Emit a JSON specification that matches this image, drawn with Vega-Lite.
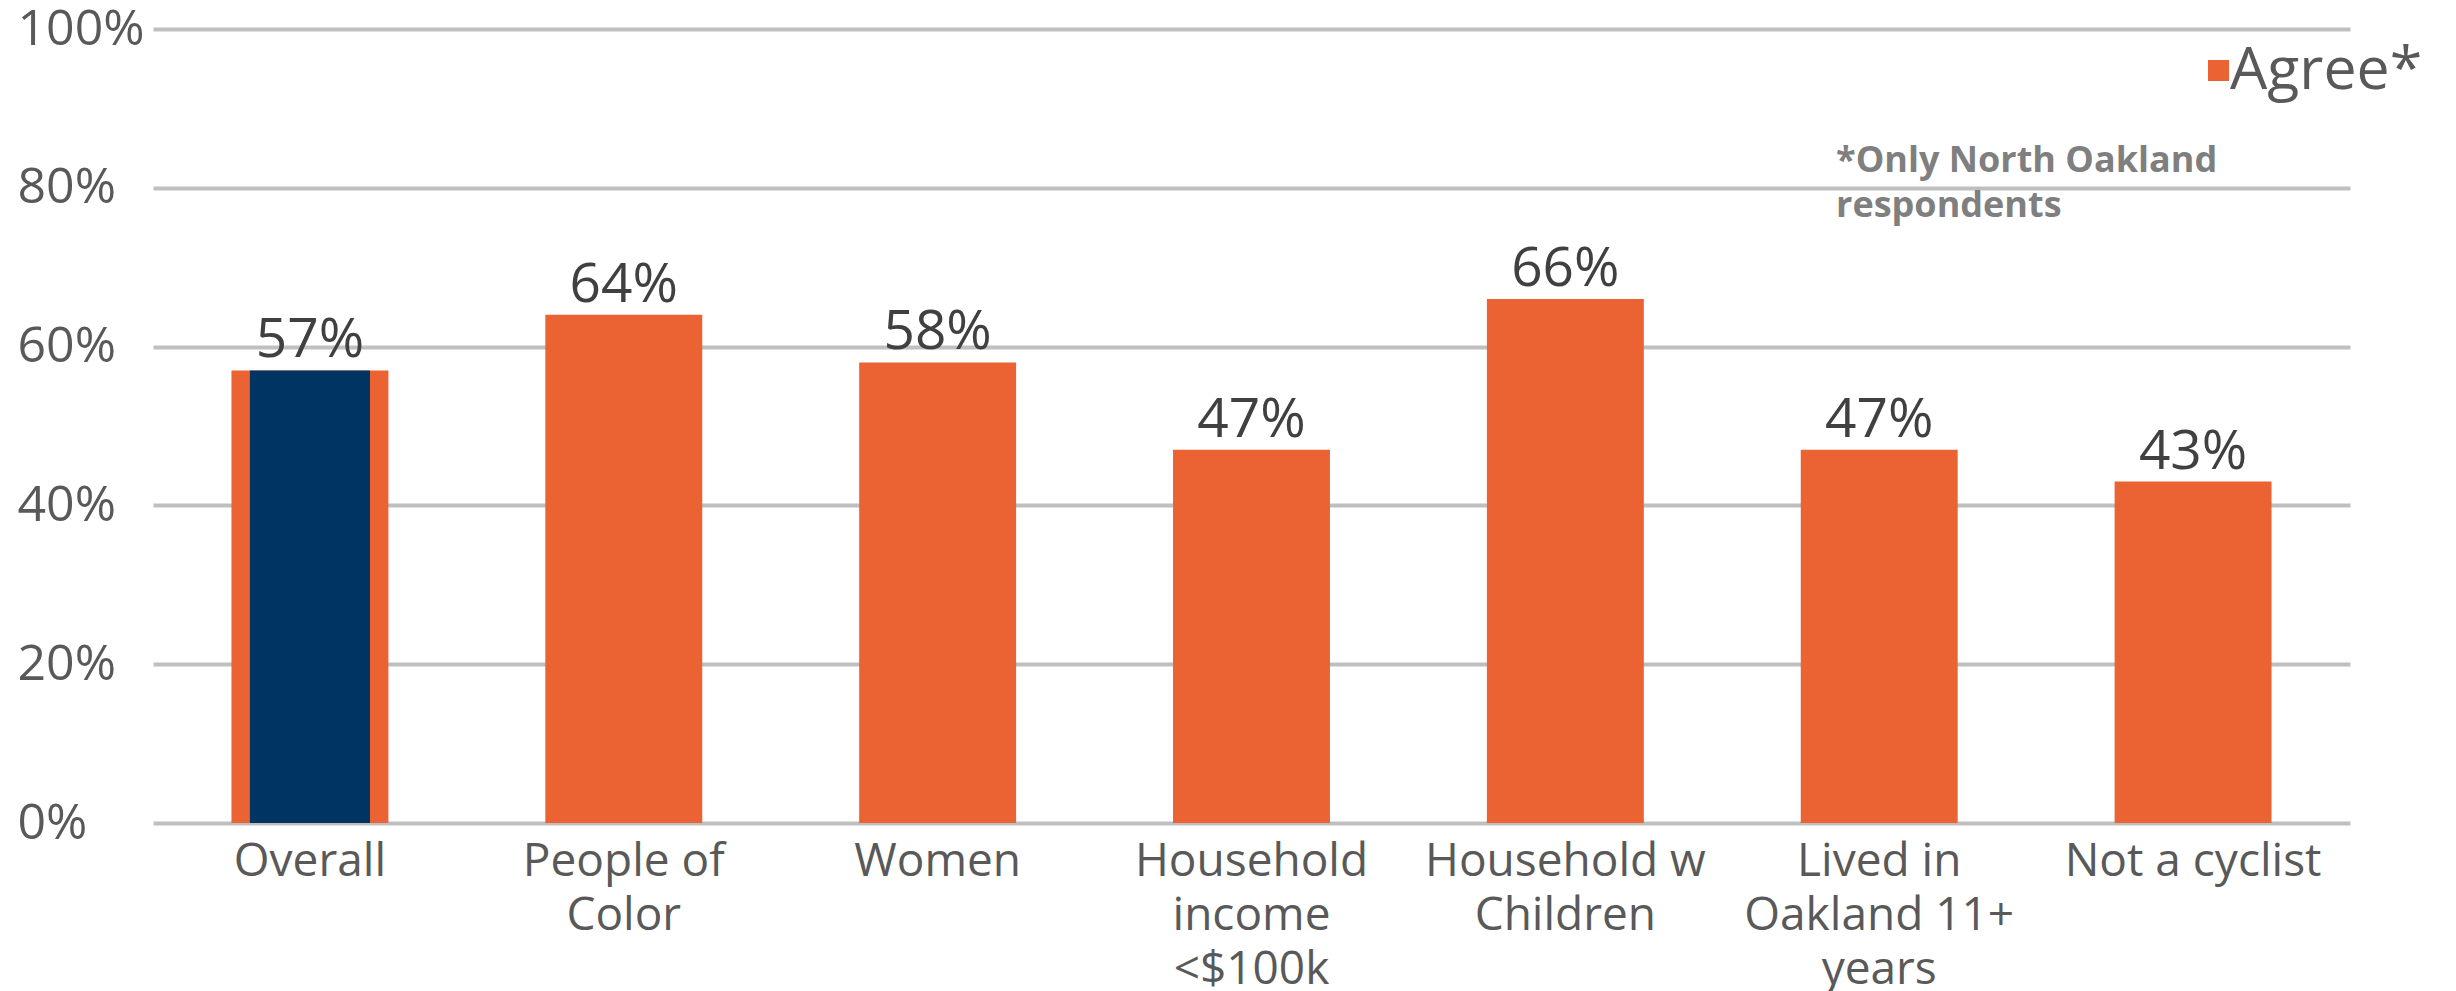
{
  "$schema": "https://vega.github.io/schema/vega-lite/v6.json",
  "width": 2197,
  "height": 794,
  "autosize": {"type": "none"},
  "padding": {"left": 153, "top": 29, "right": 106, "bottom": 168},
  "background": "white",
  "config": {"view": {"stroke": null}, "font": "Open Sans"},
  "data": {
    "values": [
      {"group": "Overall", "agree": 0.57, "series": "Agree*"},
      {"group": "People of\nColor", "agree": 0.64, "series": "Agree*"},
      {"group": "Women", "agree": 0.58, "series": "Agree*"},
      {"group": "Household\nincome\n<$100k", "agree": 0.47, "series": "Agree*"},
      {"group": "Household w\nChildren", "agree": 0.66, "series": "Agree*"},
      {"group": "Lived in\nOakland 11+\nyears", "agree": 0.47, "series": "Agree*"},
      {"group": "Not a cyclist", "agree": 0.43, "series": "Agree*"}
    ]
  },
  "layer": [
    {
      "mark": {"type": "bar"},
      "encoding": {
        "x": {
          "field": "group",
          "type": "nominal",
          "sort": null,
          "scale": {"paddingInner": 0.5, "paddingOuter": 0.25},
          "axis": {
            "title": null,
            "domain": false,
            "ticks": false,
            "tickSize": 0,
            "grid": false,
            "labelAngle": 0,
            "labelPadding": 16,
            "labelLimit": 0,
            "labelOverlap": false,
            "labelFont": "Open Sans",
            "labelFontSize": 46,
            "labelLineHeight": 54,
            "labelColor": "#595959",
            "labelExpr": "split(datum.label, '\\n')"
          }
        },
        "y": {
          "field": "agree",
          "type": "quantitative",
          "scale": {"domain": [0, 1]},
          "axis": {
            "title": null,
            "domain": false,
            "ticks": false,
            "tickSize": 0,
            "values": [0, 0.2, 0.4, 0.6, 0.8, 1],
            "format": ".0%",
            "grid": true,
            "gridColor": "#BFBFBF",
            "gridWidth": 4,
            "labelAlign": "left",
            "labelBaseline": "middle",
            "labelPadding": 136,
            "labelLimit": 0,
            "labelFont": "Open Sans",
            "labelFontSize": 50,
            "labelColor": "#595959"
          }
        },
        "color": {
          "field": "series",
          "type": "nominal",
          "scale": {"range": ["#EB6233"]},
          "legend": {
            "orient": "none",
            "legendX": 2036,
            "legendY": 12,
            "title": null,
            "symbolType": "square",
            "symbolSize": 441,
            "symbolStrokeWidth": 0,
            "labelLimit": 0,
            "labelFont": "Open Sans",
            "labelFontSize": 59,
            "labelColor": "#595959",
            "labelOffset": -18
          }
        }
      }
    },
    {
      "transform": [{"filter": "datum.group === 'Overall'"}],
      "mark": {"type": "bar", "color": "#003462", "width": {"band": 0.765}},
      "encoding": {
        "x": {"field": "group", "type": "nominal", "sort": null},
        "y": {"field": "agree", "type": "quantitative"}
      }
    },
    {
      "mark": {"type": "text", "baseline": "alphabetic", "dy": -13, "fontSize": 55, "color": "#404040", "font": "Open Sans"},
      "encoding": {
        "x": {"field": "group", "type": "nominal", "sort": null},
        "y": {"field": "agree", "type": "quantitative"},
        "text": {"field": "agree", "type": "quantitative", "format": ".0%"}
      }
    },
    {
      "data": {"values": [{"note": "*Only North Oakland", "line": 1}, {"note": "respondents", "line": 2}]},
      "mark": {
        "type": "text",
        "align": "left",
        "baseline": "alphabetic",
        "fontSize": 36,
        "fontWeight": "bold",
        "font": "Open Sans",
        "color": "#7F7F7F",
        "dx": -357
      },
      "encoding": {
        "x": {"datum": "Not a cyclist", "type": "nominal"},
        "y": {"datum": 0.82, "type": "quantitative"},
        "yOffset": {"field": "line", "type": "ordinal", "scale": {"type": "point", "padding": 0, "range": [0, 45]}},
        "text": {"field": "note", "type": "nominal"}
      }
    }
  ]
}
